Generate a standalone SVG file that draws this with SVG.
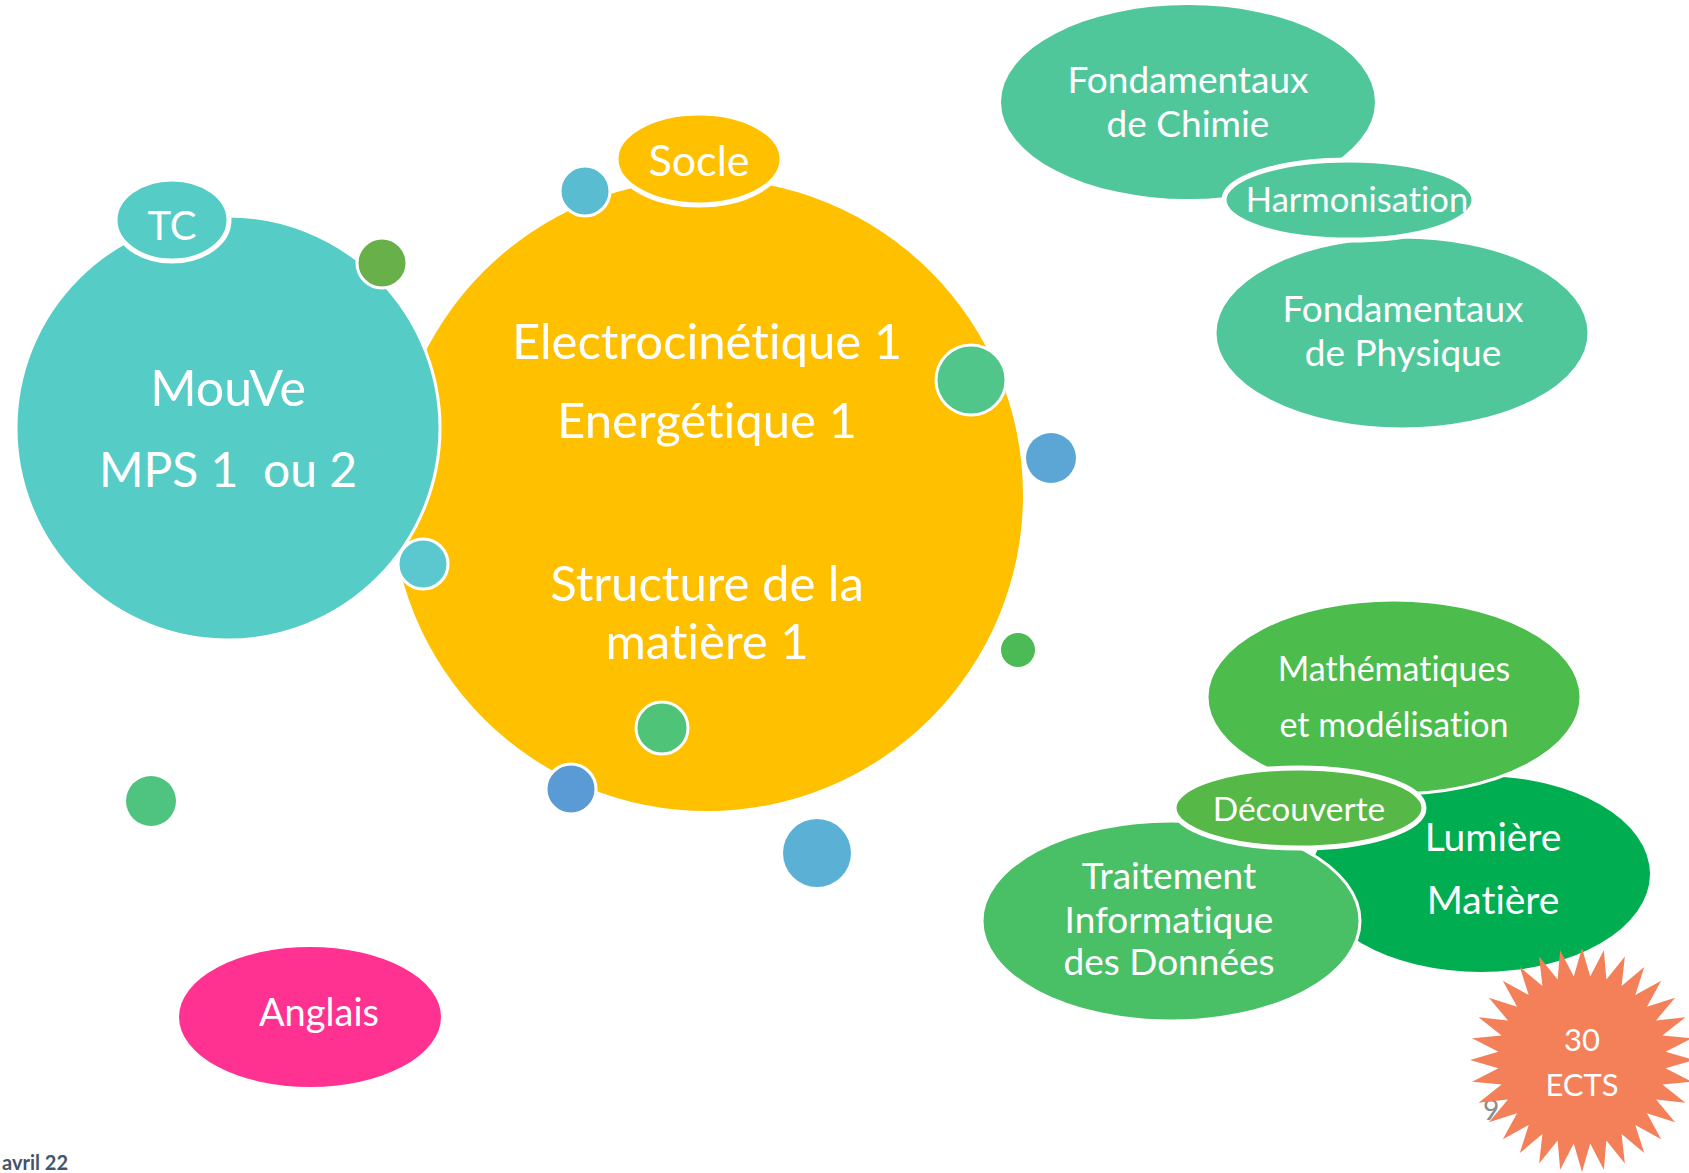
<svg xmlns="http://www.w3.org/2000/svg" width="1689" height="1173" viewBox="0 0 1689 1173">
<style>
.t{font-family:Lato,"Liberation Sans",sans-serif;fill:#ffffff;text-anchor:middle;font-variant-ligatures:none}
.ws{stroke:#ffffff;stroke-width:3}
.wt{stroke:#ffffff;stroke-width:5}
</style>
<rect width="1689" height="1173" fill="#ffffff"/>
<g id="connectors"/>
<g id="socle">
<circle cx="707" cy="495" r="316" fill="#FFC000"/>
</g>
<g id="mouve">
<circle cx="228" cy="428" r="212" fill="#56CCC7" class="ws"/>
<text class="t" x="228" y="406" font-size="50">MouVe</text>
<text class="t" x="228" y="487" font-size="48" xml:space="preserve">MPS 1  ou 2</text>
</g>
<g id="tc">
<ellipse cx="172" cy="220" rx="57" ry="41" fill="#56CCC7" class="wt"/>
<text class="t" x="172" y="240" font-size="40">TC</text>
</g>
<g id="socle-label">
<ellipse cx="699" cy="159" rx="83" ry="46" fill="#FFC000" class="wt"/>
<text class="t" x="699" y="176" font-size="43">Socle</text>
</g>
<g id="socle-text">
<text class="t" x="707" y="359" font-size="49">Electrocinétique 1</text>
<text class="t" x="707" y="438" font-size="49">Energétique 1</text>
<text class="t" x="707" y="601" font-size="49">Structure de la</text>
<text class="t" x="707" y="659" font-size="49">matière 1</text>
</g>
<g id="bubbles">
<circle cx="585" cy="191" r="25" fill="#5ABCD0" class="ws"/>
<circle cx="382" cy="263" r="25" fill="#68B04A" class="ws"/>
<circle cx="423" cy="564" r="25" fill="#5BC8D0" class="ws"/>
<circle cx="971" cy="380" r="35" fill="#50C68A" class="ws"/>
<circle cx="1051" cy="458" r="25" fill="#5BA6D5"/>
<circle cx="1018" cy="650" r="17" fill="#4CBB55"/>
<circle cx="662" cy="728" r="26" fill="#4FC478" class="ws"/>
<circle cx="571" cy="789" r="25" fill="#5B9BD5" class="ws"/>
<circle cx="817" cy="853" r="34" fill="#5BB0D5"/>
<circle cx="151" cy="801" r="25" fill="#4FC481"/>
</g>
<g id="anglais">
<ellipse cx="310" cy="1017" rx="131" ry="70" fill="#FF3291"/>
<text class="t" x="319" y="1026" font-size="38">Anglais</text>
</g>
<g id="chimie">
<ellipse cx="1188" cy="102" rx="187" ry="97" fill="#50C79B"/>
<text class="t" x="1188" y="93" font-size="37">Fondamentaux</text>
<text class="t" x="1188" y="137" font-size="37">de Chimie</text>
</g>
<g id="physique">
<ellipse cx="1402" cy="333" rx="187" ry="96" fill="#50C79B" class="ws"/>
<text class="t" x="1403" y="322" font-size="37">Fondamentaux</text>
<text class="t" x="1403" y="366" font-size="37">de Physique</text>
</g>
<g id="harmonisation">
<ellipse cx="1349" cy="200" rx="125" ry="40" fill="#50C79B" class="wt"/>
<text class="t" x="1357" y="212" font-size="34.5">Harmonisation</text>
</g>
<g id="lumiere">
<ellipse cx="1481" cy="874" rx="169" ry="98" fill="#00AD50"/>
<text class="t" x="1493" y="851" font-size="39">Lumière</text>
<text class="t" x="1493" y="914" font-size="39">Matière</text>
</g>
<g id="maths">
<ellipse cx="1394" cy="697" rx="187" ry="97" fill="#4CBC4C" class="ws"/>
<text class="t" x="1394" y="681" font-size="34">Mathématiques</text>
<text class="t" x="1394" y="737" font-size="34">et modélisation</text>
</g>
<g id="traitement">
<ellipse cx="1171" cy="921" rx="189" ry="100" fill="#4AC066" class="ws"/>
<text class="t" x="1169" y="889" font-size="37">Traitement</text>
<text class="t" x="1169" y="933" font-size="37">Informatique</text>
<text class="t" x="1169" y="975" font-size="37">des Données</text>
</g>
<g id="decouverte">
<ellipse cx="1299" cy="808" rx="125" ry="40" fill="#55B847" class="wt"/>
<text class="t" x="1299" y="821" font-size="33.5">Découverte</text>
</g>
<g id="page-number">
<text x="1483" y="1120" font-size="28" font-family="Lato,'Liberation Sans',sans-serif" fill="#8C8C8C">9</text>
</g>
<g id="ects" transform="translate(1582,1060)">
<polygon fill="#F4805A" points="0,-112 8.23,-83.6 21.85,-109.85 24.38,-80.38 42.86,-103.47 39.6,-74.08 62.22,-93.12 53.29,-64.93 79.2,-79.2 64.93,-53.29 93.12,-62.22 74.08,-39.6 103.47,-42.86 80.38,-24.38 109.85,-21.85 83.6,-8.23 112,0 83.6,8.23 109.85,21.85 80.38,24.38 103.47,42.86 74.08,39.6 93.12,62.22 64.93,53.29 79.2,79.2 53.29,64.93 62.22,93.12 39.6,74.08 42.86,103.47 24.38,80.38 21.85,109.85 8.23,83.6 0,112 -8.23,83.6 -21.85,109.85 -24.38,80.38 -42.86,103.47 -39.6,74.08 -62.22,93.12 -53.29,64.93 -79.2,79.2 -64.93,53.29 -93.12,62.22 -74.08,39.6 -103.47,42.86 -80.38,24.38 -109.85,21.85 -83.6,8.23 -112,0 -83.6,-8.23 -109.85,-21.85 -80.38,-24.38 -103.47,-42.86 -74.08,-39.6 -93.12,-62.22 -64.93,-53.29 -79.2,-79.2 -53.29,-64.93 -62.22,-93.12 -39.6,-74.08 -42.86,-103.47 -24.38,-80.38 -21.85,-109.85 -8.23,-83.6"/>
<text class="t" x="0" y="-9" font-size="31">30</text>
<text class="t" x="0" y="36" font-size="31">ECTS</text>
</g>
<g id="date">
<text x="2" y="1170" font-size="20" font-weight="bold" font-family="Lato,'Liberation Sans',sans-serif" fill="#44546A">avril 22</text>
</g>
</svg>
